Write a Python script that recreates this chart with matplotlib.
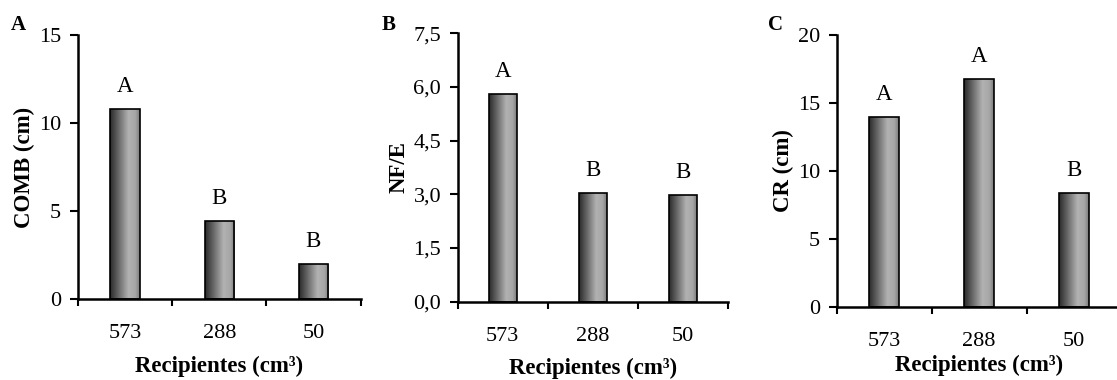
import matplotlib
matplotlib.use("Agg")
import matplotlib.pyplot as plt
import numpy as np
from matplotlib.colors import LinearSegmentedColormap

plt.rcParams['font.family'] = ['Liberation Serif', 'DejaVu Serif']

categories = ["573", "288", "50"]
comb_values = [10.8, 4.45, 2.0]
nfe_values = [5.8, 3.03, 2.98]
cr_values = [13.95, 16.75, 8.35]
comb_letters = ["A", "B", "B"]
nfe_letters = ["A", "B", "B"]
cr_letters = ["A", "A", "B"]
comb_ticks = [0, 5, 10, 15]
nfe_ticks = [0.0, 1.5, 3.0, 4.5, 6.0, 7.5]
cr_ticks = [0, 5, 10, 15, 20]
xlabel = "Recipientes (cm³)"

cmap = LinearSegmentedColormap.from_list(
    "cyl", [(0.0, "#2a2a2a"), (0.15, "#4a4a4a"), (0.62, "#b2b2b2"),
            (0.85, "#a6a6a6"), (1.0, "#7a7a7a")])
grad = np.linspace(0, 1, 256).reshape(1, -1)

fig = plt.figure(figsize=(11.17, 3.8), dpi=100)

panels = [
    dict(pos=[0.0698, 0.213, 0.253, 0.695], vals=comb_values, letters=comb_letters,
         ticks=comb_ticks, fmt=lambda v: f"{v:g}", ylabel="COMB (cm)", tag="A",
         tagxy=(0.010, 0.935), off=0.045, xlp=9),
    dict(pos=[0.4098, 0.206, 0.242, 0.707], vals=nfe_values, letters=nfe_letters,
         ticks=nfe_ticks, fmt=lambda v: f"{v:.1f}".replace(".", ","), ylabel="NF/E", tag="B",
         tagxy=(0.342, 0.935), off=0.045, xlp=9),
    dict(pos=[0.749, 0.193, 0.255, 0.715], vals=cr_values, letters=cr_letters,
         ticks=cr_ticks, fmt=lambda v: f"{v:g}", ylabel="CR (cm)", tag="C",
         tagxy=(0.688, 0.935), off=0.045, xlp=3),
]

x = np.arange(1, len(categories) + 1)
width = 0.31
for p in panels:
    ax = fig.add_axes(p["pos"])
    ymax = p["ticks"][-1]
    ax.set_xlim(0.5, 3.5)
    ax.set_ylim(0, ymax)
    bars = ax.bar(x, p["vals"], width=width, color="none", edgecolor="black",
                  linewidth=1.2, zorder=3)
    for b in bars:
        x0, y0 = b.get_x(), b.get_y()
        w, h = b.get_width(), b.get_height()
        im = ax.imshow(grad, cmap=cmap, aspect="auto",
                       extent=[x0, x0 + w, y0, y0 + h], zorder=2)
        im.set_clip_path(b)
    for xi, v, lab in zip(x, p["vals"], p["letters"]):
        ax.text(xi, v + ymax * p["off"], lab, ha="center", va="bottom",
                fontsize=16.5)
    ax.set_xlim(0.5, 3.5)
    ax.set_ylim(0, ymax)
    ax.set_yticks(p["ticks"])
    ax.set_yticklabels([p["fmt"](t) for t in p["ticks"]], fontsize=16)
    ax.set_xticks(x)
    ax.set_xticklabels(categories, fontsize=16)
    ax.set_xticks([0.5, 1.5, 2.5, 3.5], minor=True)
    ax.tick_params(axis="x", which="major", length=0, pad=18)
    ax.tick_params(axis="x", which="minor", length=5, width=1.5, direction="out")
    ax.tick_params(axis="y", length=6, width=1.5, direction="out", pad=6)
    for s in ["top", "right"]:
        ax.spines[s].set_visible(False)
    for s in ["left", "bottom"]:
        ax.spines[s].set_linewidth(1.8)
    ax.set_ylabel(p["ylabel"], fontsize=16.5, fontweight="bold", labelpad=3)
    ax.set_xlabel(xlabel, fontsize=16.5, fontweight="bold", labelpad=p["xlp"])
    fig.text(p["tagxy"][0], p["tagxy"][1], p["tag"], fontsize=15,
             fontweight="bold", ha="left", va="center")

fig.savefig("out.png", dpi=100)
